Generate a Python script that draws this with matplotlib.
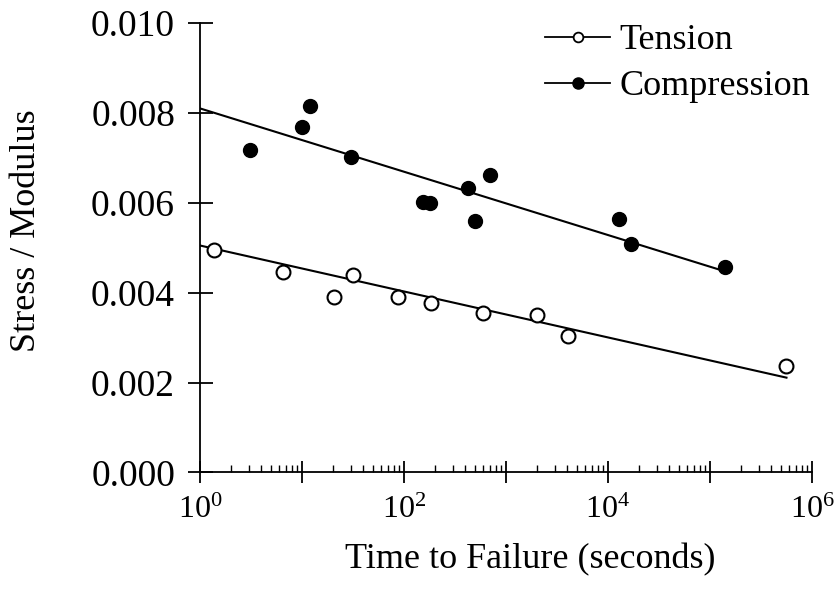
import matplotlib
matplotlib.use('Agg')
import numpy as np
import matplotlib.pyplot as plt
from matplotlib.lines import Line2D
from matplotlib.ticker import LogLocator, FuncFormatter, FormatStrFormatter, NullFormatter

plt.rcParams['font.family'] = 'Liberation Serif'
plt.rcParams['mathtext.fontset'] = 'custom'
plt.rcParams['mathtext.rm'] = 'Liberation Serif'
plt.rcParams['mathtext.it'] = 'Liberation Serif'

# Data (time to failure in seconds, stress / modulus)
tension_t = [1.36, 6.5, 20.8, 31.4, 87.5, 186, 592, 2000, 4030, 562000]
tension_v = [0.00495, 0.00445, 0.00390, 0.00440, 0.00391, 0.00377, 0.00355, 0.00351, 0.00304, 0.00237]

compression_t = [3.1, 10.0, 12.1, 30.5, 153, 178, 425, 500, 697, 12700, 16800, 139000]
compression_v = [0.00717, 0.00769, 0.00816, 0.00701, 0.00602, 0.00599, 0.00634, 0.00559,
                 0.00661, 0.00565, 0.00509, 0.00457]

# fitted lines (end points as drawn)
tension_fit_t = [1, 562000]
tension_fit_v = [0.00505, 0.00211]
compression_fit_t = [1, 125000]
compression_fit_v = [0.00810, 0.00451]

FS = 26

fig = plt.figure(figsize=(8.38, 5.99), dpi=100)
ax = fig.add_axes([200 / 838, 0.2112, 612 / 838, 0.7504])

ax.plot(tension_fit_t, tension_fit_v, color='black', lw=1.5)
ax.plot(compression_fit_t, compression_fit_v, color='black', lw=1.5)
ax.plot(tension_t, tension_v, 'o', ms=10, mfc='white', mec='black', mew=1.5, clip_on=False)
ax.plot(compression_t, compression_v, 'o', ms=10, mfc='black', mec='black', clip_on=False)

ax.set_xscale('log')
ax.set_xlim(1, 1e6)
ax.set_ylim(0, 0.010)

ax.xaxis.set_major_locator(LogLocator(base=10, numticks=20))
ax.xaxis.set_minor_locator(LogLocator(base=10, subs=range(2, 10), numticks=100))
ax.xaxis.set_minor_formatter(NullFormatter())

def dec_label(x, pos):
    # only every second decade carries a label
    e = int(round(np.log10(x)))
    return r'$10^{%d}$' % e if e % 2 == 0 else ''

ax.xaxis.set_major_formatter(FuncFormatter(dec_label))
ax.set_yticks([0, 0.002, 0.004, 0.006, 0.008, 0.010])
ax.yaxis.set_major_formatter(FormatStrFormatter('%.3f'))

for s in ['top', 'right']:
    ax.spines[s].set_visible(False)
for s in ['left', 'bottom']:
    ax.spines[s].set_linewidth(1.3)

ax.tick_params(axis='y', which='major', direction='inout', length=18, width=1.3,
               labelsize=27, pad=9)
ax.tick_params(axis='x', which='major', direction='inout', length=16, width=1.3,
               labelsize=23, pad=9)
ax.tick_params(axis='x', which='minor', direction='in', length=5, width=1.0)

ax.set_xlabel('Time to Failure (seconds)', fontsize=FS, va='center')
ax.xaxis.set_label_coords(0.54, -0.195)
ax.set_ylabel('Stress / Modulus', fontsize=FS, va='center')
ax.yaxis.set_label_coords(-0.283, 0.537)

handles = [
    Line2D([], [], color='black', lw=1.3, marker='o', ms=7, mfc='white', mec='black', mew=1.3),
    Line2D([], [], color='black', lw=1.3, marker='o', ms=8, mfc='black', mec='black'),
]
ax.legend(handles, ['Tension', 'Compression'], loc='upper left', frameon=False,
          bbox_to_anchor=(545 / 838, 1 - 24 / 599), bbox_transform=fig.transFigure,
          borderpad=0, borderaxespad=0, handlelength=1.8, handletextpad=0.25,
          labelspacing=0.35, fontsize=FS, numpoints=1)

fig.savefig('out.png', dpi=100)
